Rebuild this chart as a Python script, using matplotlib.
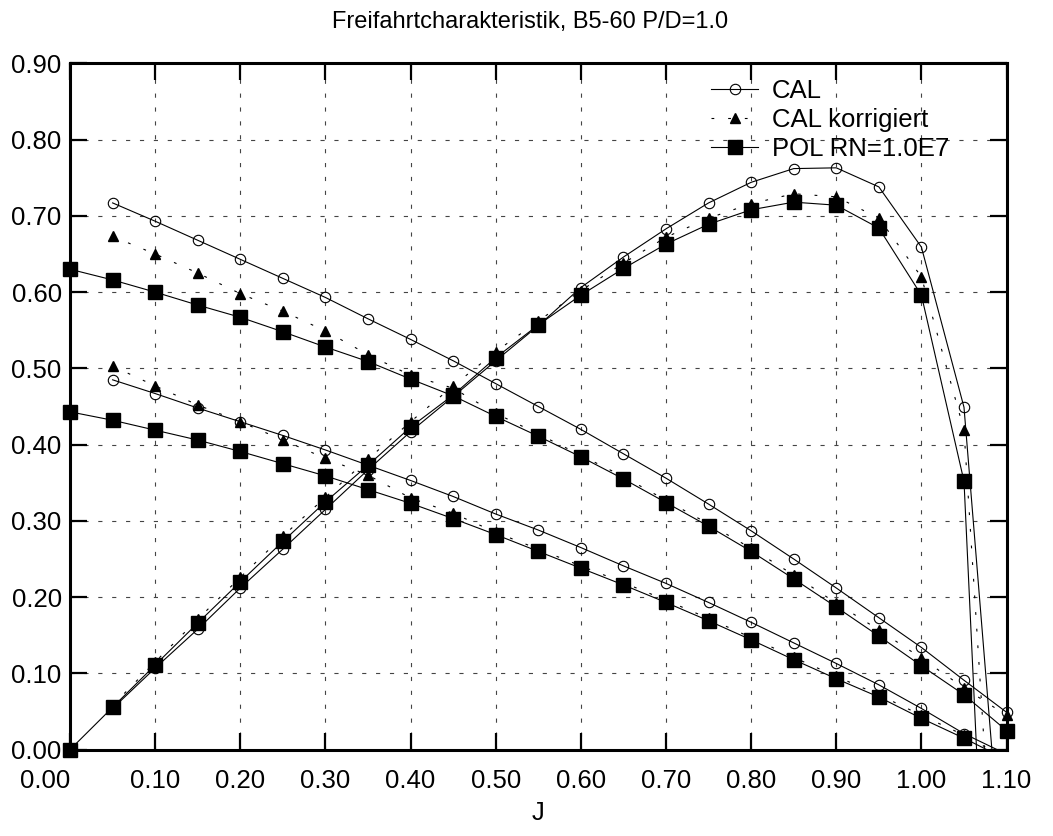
import matplotlib
matplotlib.use("Agg")
import matplotlib.pyplot as plt
import numpy as np

plt.rcParams['font.family'] = ['Liberation Sans', 'DejaVu Sans']
plt.rcParams['lines.scale_dashes'] = False

# advance coefficient
j_pol = [0.00, 0.05, 0.10, 0.15, 0.20, 0.25, 0.30, 0.35, 0.40, 0.45, 0.50, 0.55,
         0.60, 0.65, 0.70, 0.75, 0.80, 0.85, 0.90, 0.95, 1.00, 1.05, 1.10]
j_cal = j_pol[1:]

# CAL
kq10_cal = [0.717, 0.693, 0.668, 0.643, 0.618, 0.593, 0.565, 0.538, 0.510, 0.480, 0.450,
            0.420, 0.388, 0.356, 0.322, 0.287, 0.250, 0.212, 0.173, 0.134, 0.091, 0.049]
kt_cal = [0.485, 0.467, 0.448, 0.430, 0.412, 0.393, 0.373, 0.353, 0.332, 0.309, 0.288,
          0.265, 0.241, 0.218, 0.193, 0.167, 0.140, 0.113, 0.085, 0.054, 0.021, -0.006]
eta_cal = [0.054, 0.107, 0.158, 0.212, 0.263, 0.315, 0.367, 0.417, 0.463, 0.510, 0.556,
           0.606, 0.646, 0.683, 0.717, 0.744, 0.762, 0.763, 0.738, 0.659, 0.449, -0.236]

# CAL korrigiert
kq10_kor = [0.673, 0.650, 0.625, 0.598, 0.575, 0.549, 0.518, 0.491, 0.474, 0.441, 0.414,
            0.386, 0.358, 0.327, 0.296, 0.264, 0.229, 0.192, 0.157, 0.120, 0.081, 0.045]
kt_kor = [0.503, 0.477, 0.452, 0.430, 0.406, 0.382, 0.360, 0.330, 0.310, 0.285, 0.263,
          0.241, 0.219, 0.196, 0.172, 0.147, 0.121, 0.096, 0.072, 0.045, 0.019, -0.012]
eta_kor = [0.058, 0.115, 0.171, 0.226, 0.280, 0.331, 0.381, 0.430, 0.477, 0.522, 0.562,
           0.602, 0.638, 0.672, 0.697, 0.716, 0.729, 0.725, 0.697, 0.620, 0.419, -0.450]

# POL RN=1.0E7
kq10_pol = [0.630, 0.616, 0.600, 0.583, 0.567, 0.548, 0.528, 0.509, 0.486, 0.464, 0.437, 0.411,
            0.384, 0.355, 0.324, 0.293, 0.260, 0.224, 0.187, 0.149, 0.110, 0.072, 0.025]
kt_pol = [0.443, 0.432, 0.419, 0.406, 0.391, 0.375, 0.359, 0.341, 0.323, 0.303, 0.282, 0.260,
          0.238, 0.216, 0.193, 0.169, 0.144, 0.118, 0.093, 0.069, 0.041, 0.015, -0.013]
eta_pol = [0.000, 0.0555, 0.111, 0.166, 0.220, 0.273, 0.325, 0.373, 0.423, 0.465, 0.514, 0.557,
           0.596, 0.631, 0.663, 0.689, 0.708, 0.718, 0.714, 0.684, 0.596, 0.352, -0.840]

styles = {
    'cal': dict(color='black', lw=0.8, ls='-', marker='o', ms=7.5, mfc='none', mec='black', mew=0.8),
    'kor': dict(color='black', lw=0.8, ls=(0, (2, 10)), marker='^', ms=7.5, mfc='black', mec='black'),
    'pol': dict(color='black', lw=0.8, ls='-', marker='s', ms=10, mfc='black', mec='black'),
}
labels = {'cal': 'CAL', 'kor': 'CAL korrigiert', 'pol': 'POL RN=1.0E7'}

fig = plt.figure(figsize=(10.53, 8.36), dpi=100)
ax = fig.add_axes([0.0665, 0.1033, 0.8894, 0.8209])

series = [
    ('cal', j_cal, kq10_cal, kt_cal, eta_cal),
    ('kor', j_cal, kq10_kor, kt_kor, eta_kor),
    ('pol', j_pol, kq10_pol, kt_pol, eta_pol),
]

for key, j, kq, kt, eta in series:
    st = styles[key]
    for y in (kq, kt, eta):
        j_arr = np.array(j)
        y_arr = np.array(y)
        # line clipped to the axes
        ax.plot(j_arr, y_arr, color=st['color'], lw=st['lw'], ls=st['ls'], zorder=3)
        # markers only where visible, not clipped at the frame
        m = y_arr >= 0
        ax.plot(j_arr[m], y_arr[m], ls='none', marker=st['marker'], ms=st['ms'],
                mfc=st['mfc'], mec=st['mec'], mew=st.get('mew', 1.0),
                clip_on=False, zorder=5)

handles = [plt.Line2D([], [], **styles[k]) for k in ('cal', 'kor', 'pol')]
leg = fig.legend(handles, [labels[k] for k in ('cal', 'kor', 'pol')],
                 loc='upper left', bbox_to_anchor=(711 / 1053, 1 - 79 / 836),
                 frameon=False, fontsize=18.5, borderpad=0, labelspacing=0.2,
                 handlelength=1.83, handletextpad=0.55, borderaxespad=0)

ax.set_xlim(0, 1.10)
ax.set_ylim(0, 0.90)
ax.set_xticks(np.arange(0, 1.101, 0.1))
ax.set_yticks(np.arange(0, 0.901, 0.1))
ax.set_xticklabels([f"{v:.2f}" for v in np.arange(0, 1.101, 0.1)])
ax.set_yticklabels([f"{v:.2f}" for v in np.arange(0, 0.901, 0.1)])
ax.get_xticklabels()[0].set_ha('right')

ax.tick_params(direction='in', length=12, width=1.6, labelsize=18.5,
               top=True, right=True)
ax.tick_params(axis='x', pad=14)
ax.tick_params(axis='y', pad=6)

for s in ax.spines.values():
    s.set_linewidth(2.2)

ax.grid(True, color='#444444', lw=0.8, ls=(0, (3, 7)))
ax.set_axisbelow(True)

ax.set_xlabel('J', fontsize=18.5, labelpad=6)
fig.text(530 / 1053, 1 - 22 / 836, 'Freifahrtcharakteristik, B5-60 P/D=1.0',
         ha='center', va='center', fontsize=17)

fig.savefig('out.png', dpi=100)
